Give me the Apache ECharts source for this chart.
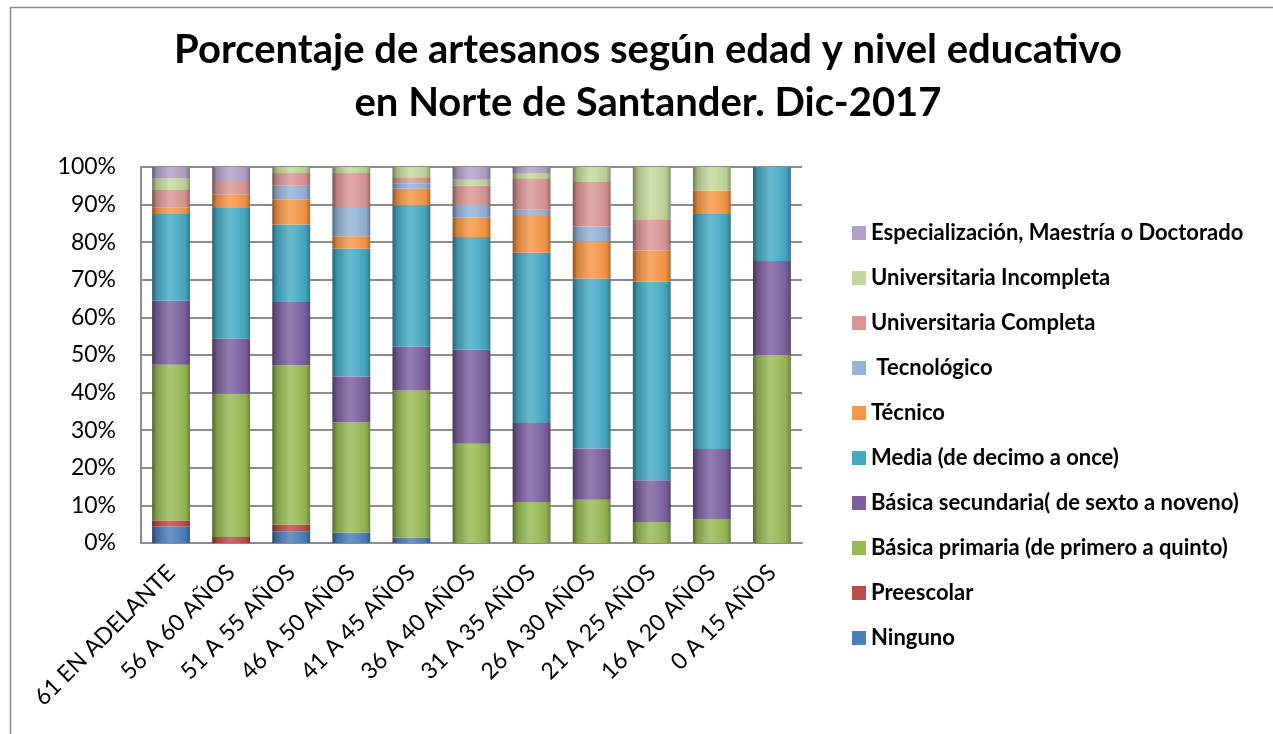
<!DOCTYPE html>
<html>
<head>
<meta charset="utf-8">
<script src="https://cdn.jsdelivr.net/npm/echarts@6/dist/echarts.min.js"></script>
<style>
html,body{margin:0;padding:0;background:#fff;}
#chart{width:1273px;height:734px;}
</style>
</head>
<body>
<div id="chart"></div>
<script>
// Categories (age groups)
const categories = ["61 EN ADELANTE","56 A 60 AÑOS","51 A 55 AÑOS","46 A 50 AÑOS","41 A 45 AÑOS","36 A 40 AÑOS","31 A 35 AÑOS","26 A 30 AÑOS","21 A 25 AÑOS","16 A 20 AÑOS","0 A 15 AÑOS"];

// Series values (percent of each age group)
const ninguno          = [4.4, 0,    3.1, 2.8,  1.45, 0,    0,    0,    0,    0,     0];
const preescolar       = [1.6, 1.6,  1.8, 0,    0,    0,    0,    0,    0,    0,     0];
const basicaPrimaria   = [41.4,38.1, 42.4,29.3, 39.13,26.4, 10.9, 11.5, 5.56, 6.25,  50];
const basicaSecundaria = [17.1,14.6, 16.8,12.2, 11.59,25.0, 21.0, 13.6, 11.11,18.75, 25];
const media            = [23.0,34.8, 20.6,34.0, 37.68,30.0, 45.3, 45.2, 52.78,62.5,  25];
const tecnico          = [1.8, 3.5,  6.6, 3.3,  4.35, 5.1,  9.8,  9.9,  8.33, 6.25,  0];
const tecnologico      = [0,   0,    3.7, 7.5,  1.45, 3.4,  1.6,  4.0,  0,    0,     0];
const univCompleta     = [4.6, 3.7,  3.4, 9.3,  1.45, 5.1,  8.2,  11.8, 8.33, 0,     0];
const univIncompleta   = [3.2, 0,    1.6, 1.6,  2.90, 1.6,  1.6,  4.0,  13.89,6.25,  0];
const especializacion  = [2.9, 3.7,  0,   0,    0,    3.4,  1.6,  0,    0,    0,     0];

const yTicks = [0,10,20,30,40,50,60,70,80,90,100];

const seriesDefs = [
  {name:"Ninguno", data:ninguno, color:"#4A7EBB"},
  {name:"Preescolar", data:preescolar, color:"#BE4B48"},
  {name:"Básica primaria (de primero a quinto)", data:basicaPrimaria, color:"#98B954"},
  {name:"Básica secundaria( de sexto a noveno)", data:basicaSecundaria, color:"#7D60A0"},
  {name:"Media (de decimo a once)", data:media, color:"#46AAC5"},
  {name:"Técnico", data:tecnico, color:"#F79646"},
  {name:" Tecnológico", data:tecnologico, color:"#95B3D7"},
  {name:"Universitaria Completa", data:univCompleta, color:"#DA9694"},
  {name:"Universitaria Incompleta", data:univIncompleta, color:"#C4D79B"},
  {name:"Especialización, Maestría o Doctorado", data:especializacion, color:"#B2A1C7"}
];

function shade(hex, f){
  const n = parseInt(hex.slice(1),16);
  let r=(n>>16)&255, g=(n>>8)&255, b=n&255;
  if(f<0){ r=Math.round(r*(1+f)); g=Math.round(g*(1+f)); b=Math.round(b*(1+f)); }
  else { r=Math.round(r+(255-r)*f); g=Math.round(g+(255-g)*f); b=Math.round(b+(255-b)*f); }
  return "rgb("+r+","+g+","+b+")";
}
function cyl(c){
  return new echarts.graphic.LinearGradient(0,0,1,0,[
    {offset:0, color:shade(c,-0.45)},
    {offset:0.12, color:shade(c,-0.15)},
    {offset:0.45, color:shade(c,0.18)},
    {offset:0.6, color:shade(c,0.12)},
    {offset:0.88, color:shade(c,-0.05)},
    {offset:1, color:shade(c,-0.3)}
  ]);
}

const FONT = "Lato, 'Open Sans', sans-serif";
const chart = echarts.init(document.getElementById('chart'), null, {renderer:'canvas'});

const option = {
  animation:false,
  backgroundColor:'#ffffff',
  textStyle:{fontFamily:FONT},
  color: seriesDefs.map(s=>s.color),
  title:{
    text:"Porcentaje de artesanos según edad y nivel educativo\nen Norte de Santander. Dic-2017",
    left:643,
    textAlign:'center',
    top:19,
    textStyle:{fontFamily:FONT, fontWeight:'bold', fontSize:40, lineHeight:53, color:'#000'}
  },
  graphic:[{
    type:'rect', left:8, top:5, shape:{x:0,y:0,width:1400,height:1000},
    style:{fill:'none', stroke:'#8a8a8a', lineWidth:1.5}, silent:true, z:-1
  }],
  legend:{
    orient:'vertical',
    left:847, top:217,
    itemWidth:14, itemHeight:14, itemGap:23,
    icon:'rect',
    data: seriesDefs.slice().reverse().map(s=>({name:s.name, itemStyle:{color:s.color}})),
    textStyle:{fontFamily:FONT, fontWeight:'bold', fontSize:22, lineHeight:22, color:'#000'}
  },
  grid:{left:141, right:471, top:167, bottom:191, containLabel:false},
  xAxis:{
    type:'category',
    data:categories,
    axisLine:{show:true, lineStyle:{color:'#8c8c8c', width:2}},
    axisTick:{show:false},
    axisLabel:{rotate:45, fontFamily:FONT, fontSize:23, color:'#000', margin:26, interval:0}
  },
  yAxis:{
    type:'value', min:0, max:100, interval:10,
    axisLine:{show:true, lineStyle:{color:'#8c8c8c', width:2}},
    axisTick:{show:false},
    splitLine:{show:true, lineStyle:{color:'#8c8c8c', width:2}},
    axisLabel:{formatter: v=> yTicks.includes(v) ? v+'%' : '', fontFamily:FONT, fontSize:23, color:'#000', margin:25}
  },
  series: seriesDefs.map(s=>({
    name:s.name, type:'bar', stack:'total', data:s.data,
    barWidth:'63%',
    itemStyle:{color:cyl(s.color)},
    emphasis:{disabled:true}
  }))
};
chart.setOption(option);
</script>
</body>
</html>
